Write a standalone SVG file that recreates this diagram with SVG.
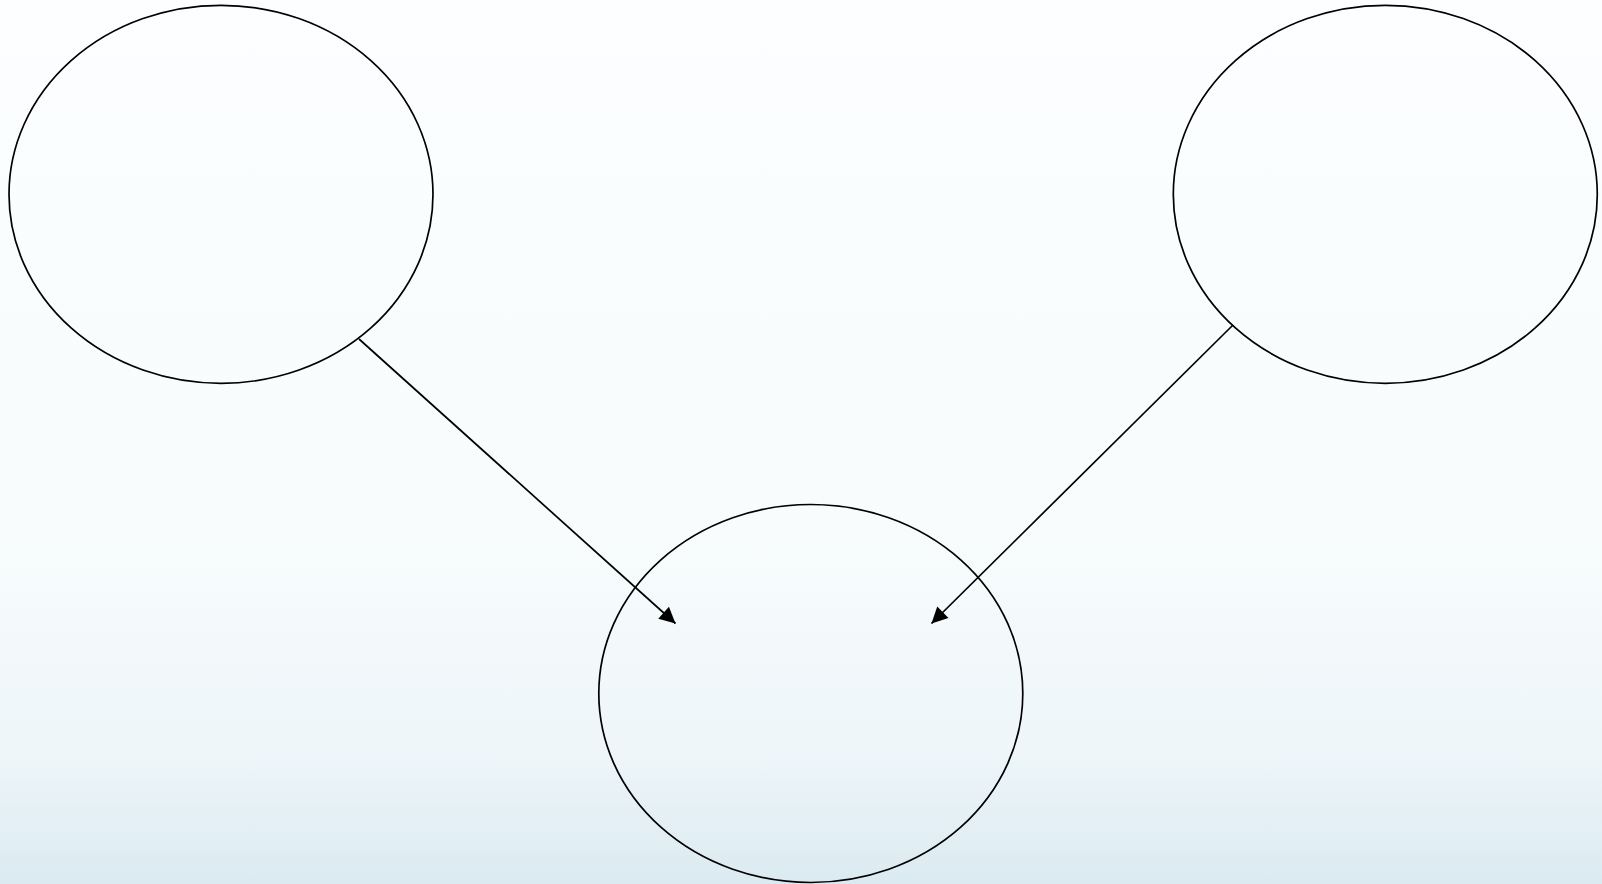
<svg xmlns="http://www.w3.org/2000/svg" width="1602" height="884" viewBox="0 0 1602 884">
  <defs>
    <linearGradient id="bg" x1="0" y1="0" x2="0" y2="1">
      <stop offset="0" stop-color="#fcfeff"/>
      <stop offset="0.6" stop-color="#f8fcfd"/>
      <stop offset="0.85" stop-color="#eef6f9"/>
      <stop offset="1" stop-color="#dbeaf1"/>
    </linearGradient>
    <marker id="arrow" markerUnits="userSpaceOnUse" markerWidth="20" markerHeight="20" refX="16" refY="10" orient="auto" overflow="visible">
      <path d="M0,2 L16,10 L0,18 Z" fill="#000"/>
    </marker>
  </defs>
  <style>
    .node { fill: none; stroke: #000; stroke-width: 1.7; }
    .edge { fill: none; stroke: #000; stroke-width: 1.7; marker-end: url(#arrow); }
  </style>
  <rect width="1602" height="884" fill="url(#bg)"/>
  <g id="node-left">
    <ellipse class="node" cx="221" cy="194.3" rx="212" ry="189"/>
  </g>
  <g id="node-right">
    <ellipse class="node" cx="1385.3" cy="194.3" rx="212" ry="189"/>
  </g>
  <g id="node-bottom">
    <ellipse class="node" cx="810.8" cy="693.5" rx="212" ry="189"/>
  </g>
  <g id="connectors">
    <line class="edge" x1="359" y1="339" x2="675.5" y2="623.5"/>
    <line class="edge" x1="1233" y1="325" x2="931.5" y2="623.5"/>
  </g>
</svg>
